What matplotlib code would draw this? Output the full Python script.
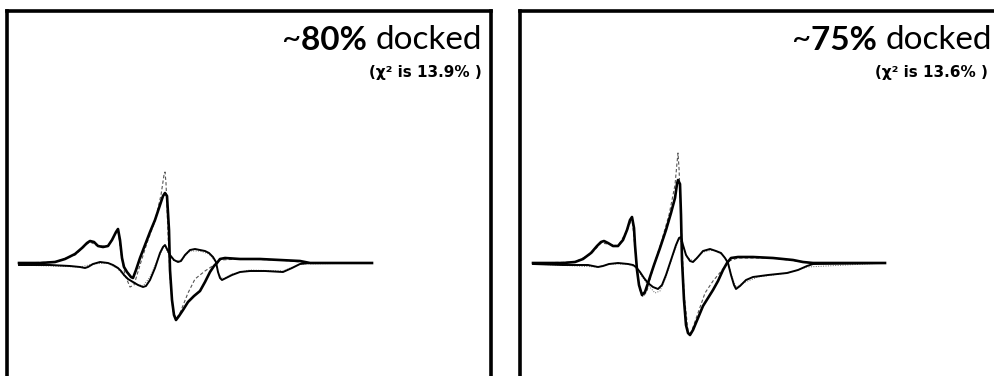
import matplotlib
matplotlib.use("Agg")
import matplotlib.pyplot as plt

FONT = ["Lato", "DejaVu Sans"]

# left panel: ~80% docked
l_a_x = [19, 40, 55, 65, 75, 82, 87, 90, 94, 98, 103, 108, 112, 116, 118, 120, 122, 124, 127, 131, 133,
         136, 140, 145, 150, 155, 160, 163, 165, 167, 169, 170, 172, 174, 176, 179, 183, 188, 194, 200,
         205, 210, 214, 217, 220, 225, 240, 260, 280, 300, 310, 330, 350, 372]
l_a_y = [0, 0, 1, 4, 9, 15, 20, 22, 21, 17, 16, 17, 23, 31, 34, 23, 5, -4, -9, -14, -15,
         -7, 5, 18, 31, 43, 58, 67, 70, 67, 33, -7, -37, -52, -57, -53, -47, -39, -33, -28,
         -19, -9, -3, 0, 4, 5, 4, 4, 3, 2, 0, 0, 0, 0]
l_b_x = [19, 50, 70, 80, 85, 88, 93, 100, 108, 113, 118, 121, 124, 128, 133, 138, 143, 146, 150, 155,
         160, 163, 165, 167, 170, 174, 178, 181, 185, 190, 195, 200, 205, 209, 213, 216, 218, 220, 222,
         226, 232, 240, 250, 265, 283, 292, 300, 310, 372]
l_b_y = [-2, -2, -3, -4, -5, -4, -1, 1, 0, -2, -5, -8, -12, -16, -19, -22, -24, -23, -17, -5,
         10, 16, 18, 14, 8, 3, 1, 2, 8, 13, 14, 13, 12, 10, 6, 1, -9, -15, -17,
         -15, -12, -9, -8, -8, -9, -5, -1, 0, 0]
l_fa_x = [19, 55, 75, 87, 90, 98, 108, 116, 118, 121, 125, 130, 134, 140, 147, 155, 161, 164, 165, 166,
          168, 170, 173, 176, 180, 188, 195, 205, 214, 220, 240, 280, 310, 372]
l_fa_y = [0, 1, 8, 19, 21, 17, 17, 30, 33, 10, -12, -24, -22, -2, 20, 42, 68, 88, 91, 80,
          30, -15, -48, -56, -50, -30, -16, -8, -2, 3, 4, 3, 0, 0]
l_fb_x = [19, 80, 93, 108, 118, 125, 133, 143, 150, 157, 163, 165, 168, 174, 181, 190, 200, 209, 215,
          219, 223, 232, 250, 283, 300, 372]
l_fb_y = [-2, -4, -1, 0, -6, -14, -20, -23, -14, 2, 15, 17, 10, 2, 3, 12, 12, 9, 2,
          -12, -16, -11, -7, -8, -1, 0]

# right panel: ~75% docked
r_a_x = [20, 50, 62, 70, 78, 84, 88, 91, 95, 100, 105, 110, 114, 117, 119, 121, 122, 124, 126, 129,
         132, 136, 141, 147, 153, 158, 162, 164, 165, 167, 168, 169, 171, 173, 175, 177, 180, 185, 190,
         195, 200, 205, 210, 214, 218, 225, 240, 260, 280, 290, 300, 372]
r_a_y = [0, 0, 1, 4, 10, 17, 21, 22, 20, 17, 17, 23, 33, 43, 46, 35, 18, -7, -22, -32,
         -29, -17, -2, 15, 33, 50, 65, 79, 83, 79, 48, 3, -37, -62, -70, -72, -67, -55, -43,
         -35, -27, -18, -7, 0, 5, 6, 6, 5, 3, 1, 0, 0]
r_b_x = [20, 50, 75, 85, 90, 96, 105, 115, 120, 123, 127, 131, 135, 140, 145, 149, 153, 158, 163, 166,
         168, 170, 173, 177, 180, 184, 190, 197, 203, 208, 212, 215, 218, 221, 223, 227, 233, 240, 255,
         274, 285, 294, 300, 372]
r_b_y = [-1, -2, -2, -4, -3, -1, 0, -1, -2, -4, -9, -15, -20, -24, -26, -22, -12, 3, 18, 25,
         26, 18, 8, 2, 1, 5, 12, 14, 12, 10, 5, 0, -12, -22, -26, -23, -17, -14, -12,
         -10, -7, -3, -1, 0]
r_fa_x = [20, 62, 78, 88, 95, 105, 114, 119, 122, 126, 130, 134, 140, 148, 156, 162, 164, 165, 166, 168,
          171, 175, 178, 185, 192, 200, 210, 216, 225, 260, 290, 300, 372]
r_fa_y = [0, 1, 9, 20, 19, 17, 32, 45, 15, -25, -34, -28, -5, 20, 48, 78, 100, 110, 95, 45,
          -30, -68, -70, -50, -30, -18, -6, 2, 5, 5, 1, 0, 0]
r_fb_x = [20, 85, 96, 115, 122, 128, 135, 142, 147, 153, 160, 166, 169, 174, 180, 190, 200, 210, 215,
          219, 223, 230, 245, 275, 294, 372]
r_fb_y = [-1, -4, -1, -1, -4, -12, -22, -30, -28, -14, 8, 24, 20, 6, 2, 11, 13, 8, 1,
          -14, -24, -20, -14, -10, -4, 0]

panels = [
    dict(left=7, a=(l_a_x, l_a_y), b=(l_b_x, l_b_y), fa=(l_fa_x, l_fa_y), fb=(l_fb_x, l_fb_y),
         pct="80%", chi="13.9%", tx=482, sx=482),
    dict(left=520, a=(r_a_x, r_a_y), b=(r_b_x, r_b_y), fa=(r_fa_x, r_fa_y), fb=(r_fb_x, r_fb_y),
         pct="75%", chi="13.6%", tx=479, sx=475),
]

W, H = 995, 376
fig = plt.figure(figsize=(W / 100, H / 100), dpi=100)

for p in panels:
    # box runs from y=11 px down past the bottom edge of the figure
    ax = fig.add_axes([p["left"] / W, 1 - 416 / H, 484 / W, 405 / H])
    ax.set_xlim(7, 491)
    ax.set_ylim(-153, 252)
    ax.set_xticks([])
    ax.set_yticks([])
    for s in ax.spines.values():
        s.set_linewidth(2.6)
        s.set_color("black")

    ax.plot(*p["fa"], color="#555555", lw=0.8, ls=(0, (3, 2)))
    ax.plot(*p["fb"], color="#666666", lw=0.7, ls=(0, (1, 1.5)))
    ax.plot(*p["b"], color="black", lw=1.4, solid_joinstyle="round")
    ax.plot(*p["a"], color="black", lw=1.9, solid_joinstyle="round")

    t = ax.text(p["tx"], 214, "docked", ha="right", va="baseline", fontsize=24, family=FONT)
    t2 = ax.annotate(p["pct"] + " ", xy=(0, 0), xycoords=t, ha="right", va="bottom",
                     fontsize=24, fontweight="bold", family=FONT)
    ax.annotate("~", xy=(0, 0), xycoords=t2, ha="right", va="bottom", fontsize=24, family=FONT)
    ax.text(p["sx"], 186, "(χ² is " + p["chi"] + " )", ha="right", va="baseline",
            fontsize=11, fontweight="bold", family=["DejaVu Sans"])

fig.savefig("out.png", dpi=100)
